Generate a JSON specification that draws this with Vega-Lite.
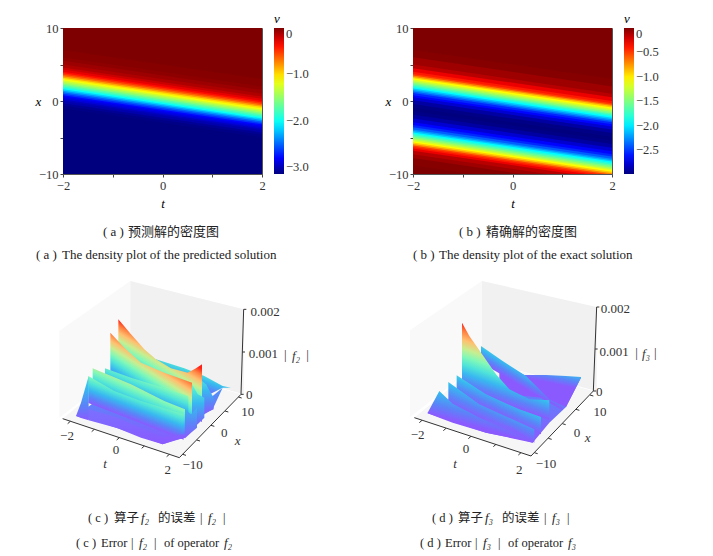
{"$schema":"https://vega.github.io/schema/vega-lite/v6.json","background":"white","padding":{"left":34,"top":12,"right":0,"bottom":0},"bounds":"flush","spacing":273,"config":{"view":{"stroke":null}},
"params":[
{"name":"st","expr":"[{offset:0,color:'#8a5aff'},{offset:0.12,color:'#5a84f8'},{offset:0.25,color:'#38b8f0'},{offset:0.38,color:'#50e4d8'},{offset:0.5,color:'#80f8b8'},{offset:0.62,color:'#c8ee90'},{offset:0.75,color:'#ffc070'},{offset:0.88,color:'#ff8040'},{offset:1,color:'#ff2018'}]"},
{"name":"g45","expr":"{gradient:'linear',x1:0,y1:1,x2:0,y2:0,stops:[{offset:0,color:'#8a5aff'},{offset:0.27,color:'#5a84f8'},{offset:0.56,color:'#38b8f0'},{offset:0.84,color:'#50e4d8'},{offset:1,color:'#78f4c0'}]}"},
{"name":"g35","expr":"{gradient:'linear',x1:0,y1:1,x2:0,y2:0,stops:[{offset:0,color:'#8a5aff'},{offset:0.34,color:'#5a84f8'},{offset:0.71,color:'#38b8f0'},{offset:1,color:'#4cdce0'}]}"},
{"name":"g25","expr":"{gradient:'linear',x1:0,y1:1,x2:0,y2:0,stops:[{offset:0,color:'#8a5aff'},{offset:0.48,color:'#5a84f8'},{offset:1,color:'#38b8f0'}]}"},
{"name":"g15","expr":"{gradient:'linear',x1:0,y1:1,x2:0,y2:0,stops:[{offset:0,color:'#8a5aff'},{offset:1,color:'#5090f8'}]}"},
{"name":"g8","expr":"{gradient:'linear',x1:0,y1:1,x2:0,y2:0,stops:[{offset:0,color:'#8a5aff'},{offset:1,color:'#7a70ff'}]}"}
],
"vconcat":[
{"resolve":{"scale":{"color":"independent"}},"hconcat":[
{"width":199,"height":146,"view":{"stroke":"#555"},"encoding":{
"x":{"field":"t","type":"quantitative","scale":{"domain":[-2,2],"nice":false},"axis":{"values":[-2,-1,0,1,2],"labelExpr":"abs(datum.value)==1?'':datum.label","title":"t","titleFont":"Liberation Serif","titleFontStyle":"italic","titleFontWeight":"normal","titleFontSize":13,"titlePadding":6,"labelFont":"Liberation Serif","labelFontSize":12.5,"labelColor":"#333","grid":false,"domainColor":"#555","tickColor":"#444","tickSize":3,"labelPadding":2,"labelFlush":false}},
"y":{"field":"x","type":"quantitative","scale":{"domain":[-10,10],"nice":false},"axis":{"values":[-10,-5,0,5,10],"labelExpr":"abs(datum.value)==5?'':datum.label","title":"x","titleAngle":0,"titleX":-25,"titleY":80,"titleFont":"Liberation Serif","titleFontStyle":"italic","titleFontWeight":"normal","titleFontSize":13,"labelFont":"Liberation Serif","labelFontSize":12.5,"labelColor":"#333","grid":false,"domainColor":"#555","tickColor":"#444","tickSize":3,"labelPadding":2}}},
"layer":[
{"data":{"values":[
{"b":0,"v":-3.14,"t":[-2,2],"x":[-18,-22]},{"b":1,"v":-3.12,"t":[-2,2],"x":[-1,-5]},{"b":2,"v":-3.08,"t":[-2,2],"x":[-0.6,-4.6]},{"b":3,"v":-3.02,"t":[-2,2],"x":[-0.3,-4.3]},{"b":4,"v":-2.97,"t":[-2,2],"x":[0,-4]},{"b":5,"v":-2.9,"t":[-2,2],"x":[0.2,-3.8]},{"b":6,"v":-2.85,"t":[-2,2],"x":[0.4,-3.6]},{"b":7,"v":-2.78,"t":[-2,2],"x":[0.6,-3.4]},{"b":8,"v":-2.65,"t":[-2,2],"x":[0.8,-3.2]},{"b":9,"v":-2.52,"t":[-2,2],"x":[1,-3]},{"b":10,"v":-2.35,"t":[-2,2],"x":[1.2,-2.8]},{"b":11,"v":-2.18,"t":[-2,2],"x":[1.4,-2.6]},{"b":12,"v":-2,"t":[-2,2],"x":[1.6,-2.4]},{"b":13,"v":-1.85,"t":[-2,2],"x":[1.8,-2.2]},{"b":14,"v":-1.72,"t":[-2,2],"x":[2,-2]},{"b":15,"v":-1.56,"t":[-2,2],"x":[2.2,-1.8]},{"b":16,"v":-1.42,"t":[-2,2],"x":[2.4,-1.6]},{"b":17,"v":-1.28,"t":[-2,2],"x":[2.6,-1.4]},{"b":18,"v":-1.14,"t":[-2,2],"x":[2.8,-1.2]},{"b":19,"v":-1,"t":[-2,2],"x":[3,-1]},{"b":20,"v":-0.82,"t":[-2,2],"x":[3.2,-0.8]},{"b":21,"v":-0.64,"t":[-2,2],"x":[3.4,-0.6]},{"b":22,"v":-0.5,"t":[-2,2],"x":[3.6,-0.4]},{"b":23,"v":-0.38,"t":[-2,2],"x":[3.8,-0.2]},{"b":24,"v":-0.28,"t":[-2,2],"x":[4,0]},{"b":25,"v":-0.2,"t":[-2,2],"x":[4.3,0.3]},{"b":26,"v":-0.13,"t":[-2,2],"x":[4.6,0.6]},{"b":27,"v":-0.08,"t":[-2,2],"x":[5,1]},{"b":28,"v":-0.04,"t":[-2,2],"x":[5.5,1.5]},{"b":29,"v":-0.02,"t":[-2,2],"x":[6,2]},{"b":30,"v":0,"t":[-2,2],"x":[7,3]}
]},"transform":[{"flatten":["t","x"]}],"mark":{"type":"area","clip":true},"encoding":{
"y2":{"datum":40},"detail":{"field":"b"},
"color":{"field":"v","type":"quantitative","scale":{"domain":[-3.14,-2.795,-2.041,-1.099,-0.345,0],"range":["#00007f","#0000ff","#00ffff","#ffff00","#ff0000","#7f0000"],"interpolate":"rgb"},"legend":{"orient":"none","legendX":211,"legendY":-15,"gradientLength":146,"gradientThickness":10,"title":"v","titleFont":"Liberation Serif","titleFontStyle":"italic","titleFontWeight":"normal","titleFontSize":13,"titlePadding":2,"labelFont":"Liberation Serif","labelFontSize":12.5,"labelColor":"#333","values":[0,-1,-2,-3],"labelExpr":"datum.value==0?'0':format(datum.value,'.1f')","gradientStrokeWidth":0}}}},
{"data":{"values":[{"t":-1.196,"x":-17.97,"s":"( a )"},{"t":-0.693,"x":-17.97,"s":"预测解的密度图"},{"t":-2.543,"x":-21.05,"s":"( a )"},{"t":-2.02,"x":-21.05,"s":"The density plot of the predicted solution"}]},"mark":{"type":"text","align":"left","baseline":"middle","font":"Liberation Serif, Noto Sans CJK SC","fontSize":13,"color":"#222"},"encoding":{"text":{"field":"s"}}}
]},
{"width":199,"height":146,"view":{"stroke":"#555"},"encoding":{
"x":{"field":"t","type":"quantitative","scale":{"domain":[-2,2],"nice":false},"axis":{"values":[-2,-1,0,1,2],"labelExpr":"abs(datum.value)==1?'':datum.label","title":"t","titleFont":"Liberation Serif","titleFontStyle":"italic","titleFontWeight":"normal","titleFontSize":13,"titlePadding":6,"labelFont":"Liberation Serif","labelFontSize":12.5,"labelColor":"#333","grid":false,"domainColor":"#555","tickColor":"#444","tickSize":3,"labelPadding":2,"labelFlush":false}},
"y":{"field":"x","type":"quantitative","scale":{"domain":[-10,10],"nice":false},"axis":{"values":[-10,-5,0,5,10],"labelExpr":"abs(datum.value)==5?'':datum.label","title":"x","titleAngle":0,"titleX":-25,"titleY":80,"titleFont":"Liberation Serif","titleFontStyle":"italic","titleFontWeight":"normal","titleFontSize":13,"labelFont":"Liberation Serif","labelFontSize":12.5,"labelColor":"#333","grid":false,"domainColor":"#555","tickColor":"#444","tickSize":3,"labelPadding":2}}},
"layer":[
{"data":{"values":[
{"b":0,"v":0,"t":[-2,2],"x":[-18,-22]},{"b":1,"v":-0.02,"t":[-2,2],"x":[-8.8,-12.8]},{"b":2,"v":-0.08,"t":[-2,2],"x":[-7.8,-11.8]},{"b":3,"v":-0.15,"t":[-2,2],"x":[-7.3,-11.3]},{"b":4,"v":-0.28,"t":[-2,2],"x":[-6.8,-10.8]},{"b":5,"v":-0.4,"t":[-2,2],"x":[-6.5,-10.5]},{"b":6,"v":-0.5,"t":[-2,2],"x":[-6.3,-10.3]},{"b":7,"v":-0.7,"t":[-2,2],"x":[-6.1,-10.1]},{"b":8,"v":-0.9,"t":[-2,2],"x":[-5.9,-9.9]},{"b":9,"v":-1.05,"t":[-2,2],"x":[-5.7,-9.7]},{"b":10,"v":-1.2,"t":[-2,2],"x":[-5.5,-9.5]},{"b":11,"v":-1.35,"t":[-2,2],"x":[-5.3,-9.3]},{"b":12,"v":-1.5,"t":[-2,2],"x":[-5.1,-9.1]},{"b":13,"v":-1.65,"t":[-2,2],"x":[-4.9,-8.9]},{"b":14,"v":-1.8,"t":[-2,2],"x":[-4.7,-8.7]},{"b":15,"v":-1.95,"t":[-2,2],"x":[-4.5,-8.5]},{"b":16,"v":-2.1,"t":[-2,2],"x":[-4.3,-8.3]},{"b":17,"v":-2.25,"t":[-2,2],"x":[-4.1,-8.1]},{"b":18,"v":-2.4,"t":[-2,2],"x":[-3.9,-7.9]},{"b":19,"v":-2.55,"t":[-2,2],"x":[-3.6,-7.6]},{"b":20,"v":-2.65,"t":[-2,2],"x":[-3.3,-7.3]},{"b":21,"v":-2.78,"t":[-2,2],"x":[-2.9,-6.9]},{"b":22,"v":-2.9,"t":[-2,2],"x":[-2.4,-6.4]},{"b":23,"v":-2.97,"t":[-2,2],"x":[-1.9,-5.9]},{"b":24,"v":-2.99,"t":[-2,2],"x":[-1.4,-5.4]},{"b":25,"v":-2.97,"t":[-2,2],"x":[-0.9,-4.9]},{"b":26,"v":-2.9,"t":[-2,2],"x":[-0.4,-4.4]},{"b":27,"v":-2.78,"t":[-2,2],"x":[0.1,-3.9]},{"b":28,"v":-2.65,"t":[-2,2],"x":[0.5,-3.5]},{"b":29,"v":-2.55,"t":[-2,2],"x":[0.8,-3.2]},{"b":30,"v":-2.4,"t":[-2,2],"x":[1.1,-2.9]},{"b":31,"v":-2.25,"t":[-2,2],"x":[1.3,-2.7]},{"b":32,"v":-2.1,"t":[-2,2],"x":[1.5,-2.5]},{"b":33,"v":-1.95,"t":[-2,2],"x":[1.7,-2.3]},{"b":34,"v":-1.8,"t":[-2,2],"x":[1.9,-2.1]},{"b":35,"v":-1.65,"t":[-2,2],"x":[2.1,-1.9]},{"b":36,"v":-1.5,"t":[-2,2],"x":[2.3,-1.7]},{"b":37,"v":-1.35,"t":[-2,2],"x":[2.5,-1.5]},{"b":38,"v":-1.2,"t":[-2,2],"x":[2.7,-1.3]},{"b":39,"v":-1.05,"t":[-2,2],"x":[2.9,-1.1]},{"b":40,"v":-0.9,"t":[-2,2],"x":[3.1,-0.9]},{"b":41,"v":-0.7,"t":[-2,2],"x":[3.3,-0.7]},{"b":42,"v":-0.5,"t":[-2,2],"x":[3.5,-0.5]},{"b":43,"v":-0.4,"t":[-2,2],"x":[3.7,-0.3]},{"b":44,"v":-0.28,"t":[-2,2],"x":[4,0]},{"b":45,"v":-0.15,"t":[-2,2],"x":[4.5,0.5]},{"b":46,"v":-0.08,"t":[-2,2],"x":[5,1]},{"b":47,"v":-0.02,"t":[-2,2],"x":[6,2]},{"b":48,"v":0,"t":[-2,2],"x":[7,3]}
]},"transform":[{"flatten":["t","x"]}],"mark":{"type":"area","clip":true},"encoding":{
"y2":{"datum":40},"detail":{"field":"b"},
"color":{"field":"v","type":"quantitative","scale":{"domain":[-2.99,-2.661,-1.944,-1.047,-0.329,0],"range":["#00007f","#0000ff","#00ffff","#ffff00","#ff0000","#7f0000"],"interpolate":"rgb"},"legend":{"orient":"none","legendX":211,"legendY":-15,"gradientLength":146,"gradientThickness":10,"title":"v","titleFont":"Liberation Serif","titleFontStyle":"italic","titleFontWeight":"normal","titleFontSize":13,"titlePadding":2,"labelFont":"Liberation Serif","labelFontSize":12.5,"labelColor":"#333","values":[0,-0.5,-1,-1.5,-2,-2.5],"labelExpr":"datum.value==0?'0':format(datum.value,'.1f')","gradientStrokeWidth":0}}}},
{"data":{"values":[{"t":-1.075,"x":-17.97,"s":"( b )"},{"t":-0.533,"x":-17.97,"s":"精确解的密度图"},{"t":-2,"x":-21.05,"s":"( b )"},{"t":-1.477,"x":-21.05,"s":"The density plot of the exact solution"}]},"mark":{"type":"text","align":"left","baseline":"middle","font":"Liberation Serif, Noto Sans CJK SC","fontSize":13,"color":"#222"},"encoding":{"text":{"field":"s"}}}
]}
],"spacing":151,"bounds":"flush"},
{"resolve":{"scale":{"fill":"independent","color":"independent"}},"hconcat":[
{"width":199,"height":170,"encoding":{"x":{"type":"quantitative","scale":{"domain":[96,693],"nice":false,"zero":false},"axis":null},"y":{"type":"quantitative","scale":{"domain":[570,60],"nice":false,"zero":false},"axis":null}},"layer":[
{"data":{"values":[{"p":"left","u":[85,298],"a":[150,0],"b":[410,245]},{"p":"right","u":[298,638],"a":[0,85],"b":[245,340]},{"p":"floor","u":[95,298,445,630],"a":[413,245,287,340],"b":[413,481,530,340]}]},"transform":[{"flatten":["u","a","b"]}],"mark":{"type":"area"},"encoding":{"x":{"field":"u"},"y":{"field":"a"},"y2":{"field":"b"},"color":{"field":"p","type":"nominal","legend":null,"scale":{"domain":["left","right","floor"],"range":["#f9f9f9","#f1f1f1","#f6f6f6"]}}}},
{"data":{"values":[
{"s":"base","k":"v15","u":[135,222,260,395,460,520,545,575],"a":[405,340,340,340,340,350,345,320],"b":[405,429,442,490,470,400,385,320]},
{"s":"A","k":"A","u":[375,460,520,575,600],"a":[235,262,285,315,320],"b":[300,330,348,320,320]},
{"s":"B","k":"B","u":[262,300,340,375,420,470,495,513],"a":[115,160,205,235,262,275,262,250],"b":[275,297,321,342,368,398,412,423]},
{"s":"s1","k":"v35","u":[513,525,548],"a":[300,310,350],"b":[400,395,385]},
{"s":"C","k":"C","u":[238,280,330,400,450,483],"a":[155,200,245,275,293,305],"b":[298,324,355,398,429,450]},
{"s":"s2","k":"v45","u":[483,500,520],"a":[310,340,350],"b":[440,430,410]},
{"s":"D","k":"D","u":[222,300,380,472],"a":[262,290,315,345],"b":[330,361,393,430]},
{"s":"E","k":"E","u":[185,300,400,462],"a":[262,310,360,385],"b":[352,402,445,472]},
{"s":"s3","k":"v25","u":[462,480,498],"a":[385,400,380],"b":[472,455,440]},
{"s":"F","k":"F","u":[172,250,330,458],"a":[285,330,360,400],"b":[366,396,427,476]},
{"s":"h1","k":"v35","u":[135,150,173],"a":[405,365,285],"b":[405,411,418]},
{"s":"h2","k":"v8","u":[173,260,330,395,430,460],"a":[385,410,442,470,465,460],"b":[418,442,470,490,478,470]}
]},"transform":[{"flatten":["u","a","b"]}],"mark":{"type":"area"},"encoding":{"x":{"field":"u"},"y":{"field":"a"},"y2":{"field":"b"},"detail":{"field":"s"},"fill":{"field":"k","type":"nominal","legend":null,"scale":{"domain":["A","B","C","D","E","F","v45","v35","v25","v15","v8"],"range":[{"expr":"{gradient:'linear',x1:0,y1:0.487,x2:0.664,y2:-0.466,stops:st}"},{"expr":"{gradient:'linear',x1:0,y1:0.519,x2:0.203,y2:0.097,stops:st}"},{"expr":"{gradient:'linear',x1:0,y1:0.485,x2:0.221,y2:0.057,stops:st}"},{"expr":"{gradient:'linear',x1:0,y1:0.405,x2:0.418,y2:-0.298,stops:st}"},{"expr":"{gradient:'linear',x1:0,y1:0.429,x2:0.328,y2:-0.146,stops:st}"},{"expr":"{gradient:'linear',x1:0,y1:0.424,x2:0.362,y2:-0.205,stops:st}"},{"expr":"g45"},{"expr":"g35"},{"expr":"g25"},{"expr":"g15"},{"expr":"g8"}]}}}},
{"data":{"values":[{"u":95,"w":413,"u2":445,"w2":530},{"u":445,"w":530,"u2":630,"w2":340},{"u":630,"w":340,"u2":638,"w2":85},{"u":118,"w":421,"u2":110,"w2":428},{"u":190,"w":445,"u2":182,"w2":452},{"u":265,"w":470,"u2":257,"w2":477},{"u":340,"w":495,"u2":332,"w2":502},{"u":415,"w":520,"u2":407,"w2":527},{"u":455,"w":520,"u2":465,"w2":523},{"u":497,"w":477,"u2":507,"w2":480},{"u":540,"w":433,"u2":550,"w2":436},{"u":582,"w":390,"u2":592,"w2":393},{"u":622,"w":348,"u2":632,"w2":351},{"u":630,"w":340,"u2":638,"w2":340},{"u":634,"w":213,"u2":642,"w2":213},{"u":638,"w":85,"u2":646,"w2":85}]},"mark":{"type":"rule","color":"#333","strokeWidth":1},"encoding":{"x":{"field":"u"},"y":{"field":"w"},"x2":{"field":"u2"},"y2":{"field":"w2"}}},
{"data":{"values":[{"u":108,"w":465,"s":"−2"},{"u":255,"w":507,"s":"0"},{"u":410,"w":568,"s":"2"},{"u":485,"w":552,"s":"−10"},{"u":580,"w":455,"s":"0"},{"u":650,"w":392,"s":"10"},{"u":655,"w":342,"s":"0"},{"u":697,"w":220,"s":"0.001"},{"u":702,"w":92,"s":"0.002"},{"u":763,"w":222,"s":"|"},{"u":830,"w":222,"s":"|"}]},"mark":{"type":"text","font":"Liberation Serif","fontSize":13,"color":"#333","baseline":"middle"},"encoding":{"x":{"field":"u"},"y":{"field":"w"},"text":{"field":"s"}}},
{"data":{"values":[{"u":222,"w":548,"s":"t"},{"u":620,"w":480,"s":"x"},{"u":795,"w":225,"s":"f₂"}]},"mark":{"type":"text","font":"Liberation Serif","fontStyle":"italic","fontSize":13,"color":"#333","baseline":"middle"},"encoding":{"x":{"field":"u"},"y":{"field":"w"},"text":{"field":"s"}}},
{"data":{"values":[{"u":171,"w":711,"s":"( c )"},{"u":249,"w":711,"s":"算子"},{"u":381,"w":711,"s":"的误差"},{"u":507,"w":711,"s":"|"},{"u":576,"w":711,"s":"|"},{"u":135,"w":786,"s":"( c )"},{"u":210,"w":786,"s":"Error"},{"u":300,"w":786,"s":"|"},{"u":369,"w":786,"s":"|"},{"u":399,"w":786,"s":"of operator"}]},"mark":{"type":"text","align":"left","baseline":"middle","font":"Liberation Serif, Noto Sans CJK SC","fontSize":12.5,"color":"#222"},"encoding":{"x":{"field":"u"},"y":{"field":"w"},"text":{"field":"s"}}},
{"data":{"values":[{"u":330,"w":711,"s":"f₂"},{"u":531,"w":711,"s":"f₂"},{"u":324,"w":786,"s":"f₂"},{"u":579,"w":786,"s":"f₂"}]},"mark":{"type":"text","align":"left","baseline":"middle","font":"Liberation Serif","fontStyle":"italic","fontSize":13,"color":"#222"},"encoding":{"x":{"field":"u"},"y":{"field":"w"},"text":{"field":"s"}}}
]},
{"width":199,"height":170,"encoding":{"x":{"type":"quantitative","scale":{"domain":[81,678],"nice":false,"zero":false},"axis":null},"y":{"type":"quantitative","scale":{"domain":[570,60],"nice":false,"zero":false},"axis":null}},"layer":[
{"data":{"values":[{"p":"left","u":[72,288],"a":[148,0],"b":[408,240]},{"p":"right","u":[288,632],"a":[0,78],"b":[240,330]},{"p":"floor","u":[85,288,435,622],"a":[410,240,280,330],"b":[410,478,525,330]}]},"transform":[{"flatten":["u","a","b"]}],"mark":{"type":"area"},"encoding":{"x":{"field":"u"},"y":{"field":"a"},"y2":{"field":"b"},"color":{"field":"p","type":"nominal","legend":null,"scale":{"domain":["left","right","floor"],"range":["#f9f9f9","#f1f1f1","#f6f6f6"]}}}},
{"data":{"values":[
{"s":"base","k":"v15","u":[125,212,300,415,440,490,540,585],"a":[395,340,300,320,320,310,290,288],"b":[397,426,455,478,485,425,378,290]},
{"s":"A","k":"A","u":[340,415,480,540,585],"a":[250,282,282,285,288],"b":[340,345,352,378,290]},
{"s":"B","k":"B","u":[285,350,420,490,530],"a":[195,240,285,355,375],"b":[245,283,324,365,388]},
{"s":"C","k":"C","u":[228,250,290,330,370,430,490],"a":[125,165,222,280,325,355,358],"b":[325,333,347,361,375,396,417]},
{"s":"D","k":"D","u":[212,300,400,465],"a":[283,340,385,408],"b":[345,385,430,460]},
{"s":"E","k":"E","u":[187,280,380,445],"a":[303,370,415,445],"b":[372,410,440,485]},
{"s":"F","k":"F","u":[125,160,200,300,440],"a":[395,330,368,420,480],"b":[397,410,425,455,485]}
]},"transform":[{"flatten":["u","a","b"]}],"mark":{"type":"area"},"encoding":{"x":{"field":"u"},"y":{"field":"a"},"y2":{"field":"b"},"detail":{"field":"s"},"fill":{"field":"k","type":"nominal","legend":null,"scale":{"domain":["A","B","C","D","E","F","v15"],"range":[{"expr":"{gradient:'linear',x1:0,y1:0.1875,x2:0.432,y2:-0.888,stops:st}"},{"expr":"{gradient:'linear',x1:0,y1:0.259,x2:0.397,y2:-0.276,stops:st}"},{"expr":"{gradient:'linear',x1:0,y1:0.685,x2:0.196,y2:0.062,stops:st}"},{"expr":"{gradient:'linear',x1:0,y1:0.35,x2:0.516,y2:-0.444,stops:st}"},{"expr":"{gradient:'linear',x1:0,y1:0.379,x2:0.591,y2:-0.573,stops:st}"},{"expr":"{gradient:'linear',x1:0,y1:0.432,x2:0.775,y2:-0.935,stops:st}"},{"expr":"g15"}]}}}},
{"data":{"values":[{"u":85,"w":410,"u2":435,"w2":525},{"u":435,"w":525,"u2":622,"w2":330},{"u":622,"w":330,"u2":632,"w2":78},{"u":108,"w":418,"u2":100,"w2":425},{"u":180,"w":442,"u2":172,"w2":449},{"u":255,"w":466,"u2":247,"w2":473},{"u":330,"w":490,"u2":322,"w2":497},{"u":405,"w":515,"u2":397,"w2":522},{"u":445,"w":515,"u2":455,"w2":518},{"u":487,"w":472,"u2":497,"w2":475},{"u":529,"w":428,"u2":539,"w2":431},{"u":570,"w":385,"u2":580,"w2":388},{"u":612,"w":342,"u2":622,"w2":345},{"u":622,"w":330,"u2":630,"w2":330},{"u":627,"w":204,"u2":635,"w2":204},{"u":632,"w":78,"u2":640,"w2":78}]},"mark":{"type":"rule","color":"#333","strokeWidth":1},"encoding":{"x":{"field":"u"},"y":{"field":"w"},"x2":{"field":"u2"},"y2":{"field":"w2"}}},
{"data":{"values":[{"u":95,"w":462,"s":"−2"},{"u":240,"w":505,"s":"0"},{"u":400,"w":568,"s":"2"},{"u":480,"w":550,"s":"−10"},{"u":573,"w":455,"s":"0"},{"u":642,"w":392,"s":"10"},{"u":640,"w":333,"s":"0"},{"u":684,"w":212,"s":"0.001"},{"u":688,"w":85,"s":"0.002"},{"u":752,"w":215,"s":"|"},{"u":808,"w":215,"s":"|"}]},"mark":{"type":"text","font":"Liberation Serif","fontSize":13,"color":"#333","baseline":"middle"},"encoding":{"x":{"field":"u"},"y":{"field":"w"},"text":{"field":"s"}}},
{"data":{"values":[{"u":207,"w":548,"s":"t"},{"u":605,"w":472,"s":"x"},{"u":780,"w":218,"s":"f₃"}]},"mark":{"type":"text","font":"Liberation Serif","fontStyle":"italic","fontSize":13,"color":"#333","baseline":"middle"},"encoding":{"x":{"field":"u"},"y":{"field":"w"},"text":{"field":"s"}}},
{"data":{"values":[{"u":138,"w":711,"s":"( d )"},{"u":216,"w":711,"s":"算子"},{"u":348,"w":711,"s":"的误差"},{"u":474,"w":711,"s":"|"},{"u":543,"w":711,"s":"|"},{"u":102,"w":786,"s":"( d )"},{"u":177,"w":786,"s":"Error"},{"u":267,"w":786,"s":"|"},{"u":336,"w":786,"s":"|"},{"u":366,"w":786,"s":"of operator"}]},"mark":{"type":"text","align":"left","baseline":"middle","font":"Liberation Serif, Noto Sans CJK SC","fontSize":12.5,"color":"#222"},"encoding":{"x":{"field":"u"},"y":{"field":"w"},"text":{"field":"s"}}},
{"data":{"values":[{"u":297,"w":711,"s":"f₃"},{"u":498,"w":711,"s":"f₃"},{"u":291,"w":786,"s":"f₃"},{"u":546,"w":786,"s":"f₃"}]},"mark":{"type":"text","align":"left","baseline":"middle","font":"Liberation Serif","fontStyle":"italic","fontSize":13,"color":"#222"},"encoding":{"x":{"field":"u"},"y":{"field":"w"},"text":{"field":"s"}}}
]}
],"spacing":151,"bounds":"flush"}
]}
